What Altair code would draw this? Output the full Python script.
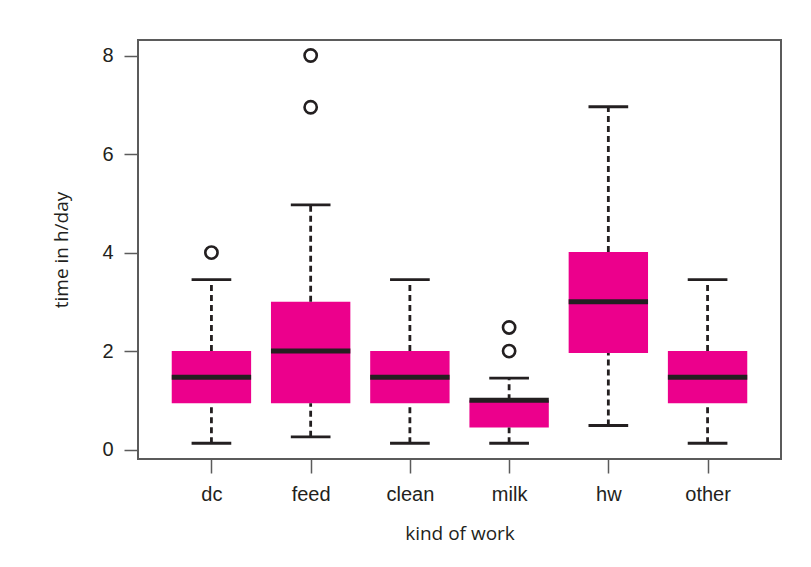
import json
import altair as alt
import pandas as pd

# ---- data ----
categories = ["dc", "feed", "clean", "milk", "hw", "other"]
lower_whisker = [0.13, 0.26, 0.13, 0.13, 0.49, 0.13]
q1 = [0.94, 0.94, 0.94, 0.45, 1.96, 0.94]
median = [1.47, 2.0, 1.47, 1.0, 3.0, 1.47]
q3 = [2.0, 3.0, 2.0, 1.0, 4.01, 2.0]
upper_whisker = [3.45, 4.97, 3.45, 1.45, 6.96, 3.45]

outlier_category = ["dc", "feed", "feed", "milk", "milk"]
outlier_value = [4.0, 8.0, 6.95, 2.0, 2.48]

y_ticks = [0, 2, 4, 6, 8]

MAGENTA = "#EC008C"
DARK = "#231F20"
FRAME = "#5b5b5b"
LABEL_FONT = "Liberation Sans"
TITLE_FONT = "Open Sans"

# ---- tables ----
idx = {c: i + 1 for i, c in enumerate(categories)}
box_df = pd.DataFrame({
    "kind": categories,
    "pos": [idx[c] for c in categories],
    "lower": lower_whisker,
    "q1": q1,
    "median": median,
    "q3": q3,
    "upper": upper_whisker,
})
box_df["box_lo"] = box_df["pos"] - 0.4
box_df["box_hi"] = box_df["pos"] + 0.4
box_df["cap_lo"] = box_df["pos"] - 0.2
box_df["cap_hi"] = box_df["pos"] + 0.2

out_df = pd.DataFrame({
    "kind": outlier_category,
    "pos": [idx[c] for c in outlier_category],
    "value": outlier_value,
})

label_expr = json.dumps(categories) + "[datum.value - 1]"
x_scale = alt.Scale(domain=[0.26, 6.74], nice=False, zero=False)
y_scale = alt.Scale(domain=[-0.19, 8.315], nice=False, zero=False)
x_axis = alt.Axis(values=list(range(1, len(categories) + 1)), labelExpr=label_expr,
                  title="kind of work")
y_axis = alt.Axis(values=y_ticks, title="time in h/day", labelAngle=0)


def X(field):
    return alt.X(field, type="quantitative", scale=x_scale, axis=x_axis, title="kind of work")


def Y(field):
    return alt.Y(field, type="quantitative", scale=y_scale, axis=y_axis, title="time in h/day")


base = alt.Chart(box_df)
DASH = [6, 4]

boxes = base.mark_rect(color=MAGENTA).encode(
    x=X("box_lo"), x2="box_hi", y=Y("q1"), y2="q3"
)
upper_line = base.mark_rule(color=DARK, strokeWidth=2.8, strokeDash=DASH).encode(
    x=X("pos"), y=Y("q3"), y2="upper"
)
lower_line = base.mark_rule(color=DARK, strokeWidth=2.8, strokeDash=DASH).encode(
    x=X("pos"), y=Y("lower"), y2="q1"
)
upper_cap = base.mark_rule(color=DARK, strokeWidth=2.8).encode(
    x=X("cap_lo"), x2="cap_hi", y=Y("upper")
)
lower_cap = base.mark_rule(color=DARK, strokeWidth=2.8).encode(
    x=X("cap_lo"), x2="cap_hi", y=Y("lower")
)
medians = base.mark_rule(color=DARK, strokeWidth=5).encode(
    x=X("box_lo"), x2="box_hi", y=Y("median")
)
outliers = alt.Chart(out_df).mark_point(
    shape="circle", filled=False, color=DARK, size=150, strokeWidth=2.6, opacity=1
).encode(x=X("pos"), y=Y("value"))

chart = alt.layer(
    boxes, upper_line, lower_line, upper_cap, lower_cap, medians, outliers
).properties(
    width=643,
    height=419,
    autosize=alt.AutoSizeParams(type="none"),
    padding={"left": 130, "top": 32, "right": 22, "bottom": 96},
    background="white",
).configure_view(
    stroke=FRAME, strokeWidth=2
).configure_axis(
    domain=False,
    grid=False,
    tickColor=FRAME,
    tickWidth=1.5,
    tickSize=14,
    labelFont=LABEL_FONT,
    labelFontSize=20,
    labelColor=DARK,
    labelPadding=11,
    titleFont=TITLE_FONT,
    titleFontSize=19,
    titleFontWeight="normal",
    titleColor=DARK,
).configure_axisX(
    titlePadding=20
).configure_axisY(
    titlePadding=30
)

chart.save("out.html", embed_options={"renderer": "svg", "actions": False})
